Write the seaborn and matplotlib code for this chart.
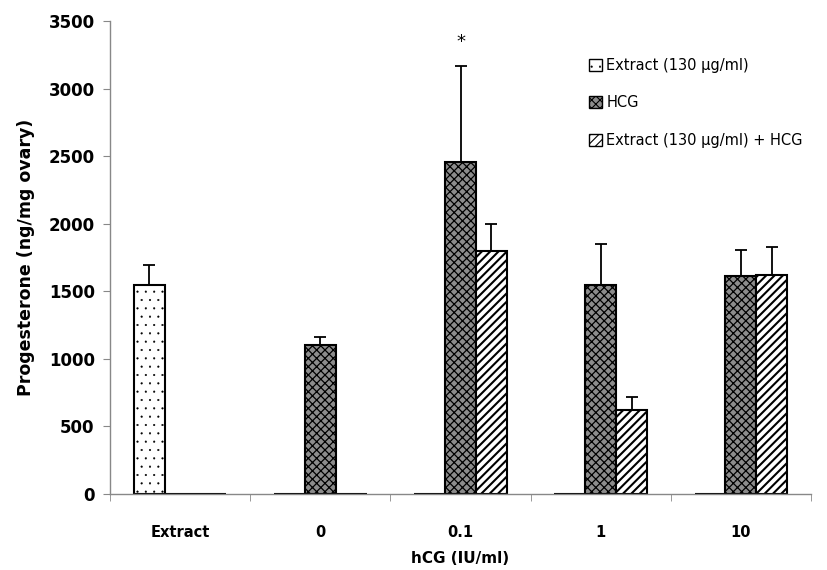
import matplotlib
matplotlib.use("Agg")
import matplotlib.pyplot as plt
from matplotlib.patches import Patch
import seaborn as sns
import pandas as pd
import numpy as np

groups = ["Extract", "0", "0.1", "1", "10"]
series = ["Extract (130 µg/ml)", "HCG", "Extract (130 µg/ml) + HCG"]
extract_vals = [1545, 0, 0, 0, 0]
hcg_vals = [0, 1105, 2455, 1545, 1615]
ext_hcg_vals = [0, 0, 1795, 620, 1620]
extract_err = [150, 0, 0, 0, 0]
hcg_err = [0, 60, 710, 305, 190]
ext_hcg_err = [0, 0, 200, 100, 205]
yticks = [0, 500, 1000, 1500, 2000, 2500, 3000, 3500]

vals = [extract_vals, hcg_vals, ext_hcg_vals]
errs = [extract_err, hcg_err, ext_hcg_err]
rows = []
for s, v in zip(series, vals):
    for g, x in zip(groups, v):
        rows.append({"group": g, "series": s, "value": x})
df = pd.DataFrame(rows)

sns.set_style("white")
plt.rcParams["font.family"] = ["DejaVu Sans"]
plt.rcParams["text.color"] = "black"
plt.rcParams["axes.labelcolor"] = "black"
plt.rcParams["xtick.color"] = "black"
plt.rcParams["ytick.color"] = "black"
plt.rcParams["hatch.linewidth"] = 1.4

fig = plt.figure(figsize=(8.27, 5.70), dpi=100)
ax = fig.add_axes([110/827, 1 - 494/570, (811-110)/827, (494-21)/570])

sns.barplot(data=df, x="group", y="value", hue="series", order=groups,
            hue_order=series, width=0.66, errorbar=None, ax=ax, legend=False,
            gap=0)

styles = [
    dict(facecolor="white", hatch="..", edgecolor="black", hlw=0.3),
    dict(facecolor="#8c8c8c", hatch="xxxx", edgecolor="black", hlw=0.9),
    dict(facecolor="white", hatch="////", edgecolor="black", hlw=1.5),
]
for cont, st, err, v in zip(ax.containers, styles, errs, vals):
    for bar, e, val in zip(cont, err, v):
        bar.set_facecolor(st["facecolor"])
        bar.set_hatch(st["hatch"])
        bar.set_edgecolor(st["edgecolor"])
        bar.set_linewidth(1.5)
        if hasattr(bar, "set_hatch_linewidth"):
            bar.set_hatch_linewidth(st["hlw"])
        if e > 0:
            cx = bar.get_x() + bar.get_width() / 2
            ax.errorbar([cx], [val], yerr=[[0], [e]], fmt="none", ecolor="black",
                        elinewidth=1.3, capsize=4, capthick=1.3)

# significance star on HCG at 0.1
hb = ax.containers[1][2]
ax.text(hb.get_x() + hb.get_width() / 2, hcg_vals[2] + hcg_err[2] + 110, "*",
        ha="center", va="bottom", fontsize=13)

ax.set_xlim(-0.5, len(groups) - 0.5)
ax.set_ylim(0, 3500)
ax.set_yticks(yticks)
ax.set_yticklabels([str(t) for t in yticks], fontsize=12, fontweight="bold")
ax.set_xticks(range(len(groups)))
ax.set_xticklabels(groups, fontsize=10.5, fontweight="bold")
ax.tick_params(axis="x", which="major", length=0, pad=22)
ax.set_xticks(np.arange(-0.5, len(groups), 1.0), minor=True)
ax.tick_params(axis="x", which="minor", length=5, direction="out", color="#888888", bottom=True)
ax.tick_params(axis="y", length=5, direction="out", color="#888888", left=True, pad=6)

ax.set_xlabel("hCG (IU/ml)", fontsize=11, fontweight="bold", labelpad=8)
ax.set_ylabel("Progesterone (ng/mg ovary)", fontsize=12.5, fontweight="bold", labelpad=10)

for side in ["top", "right"]:
    ax.spines[side].set_visible(False)
for side in ["left", "bottom"]:
    ax.spines[side].set_color("#888888")
    ax.spines[side].set_linewidth(1.0)

handles = []
for st in styles:
    p = Patch(facecolor=st["facecolor"], hatch=st["hatch"], edgecolor="black", linewidth=1.0)
    handles.append(p)
leg = fig.legend(handles, series, loc="upper left", bbox_to_anchor=(583/827, 1 - 52/570),
                 frameon=False, fontsize=10.5, handlelength=0.9, handleheight=0.9,
                 handletextpad=0.3, labelspacing=1.55, borderaxespad=0)
for h, st in zip(leg.legend_handles, styles):
    if hasattr(h, "set_hatch_linewidth"):
        h.set_hatch_linewidth(min(st["hlw"], 0.8))

fig.savefig("out.png", dpi=100)
